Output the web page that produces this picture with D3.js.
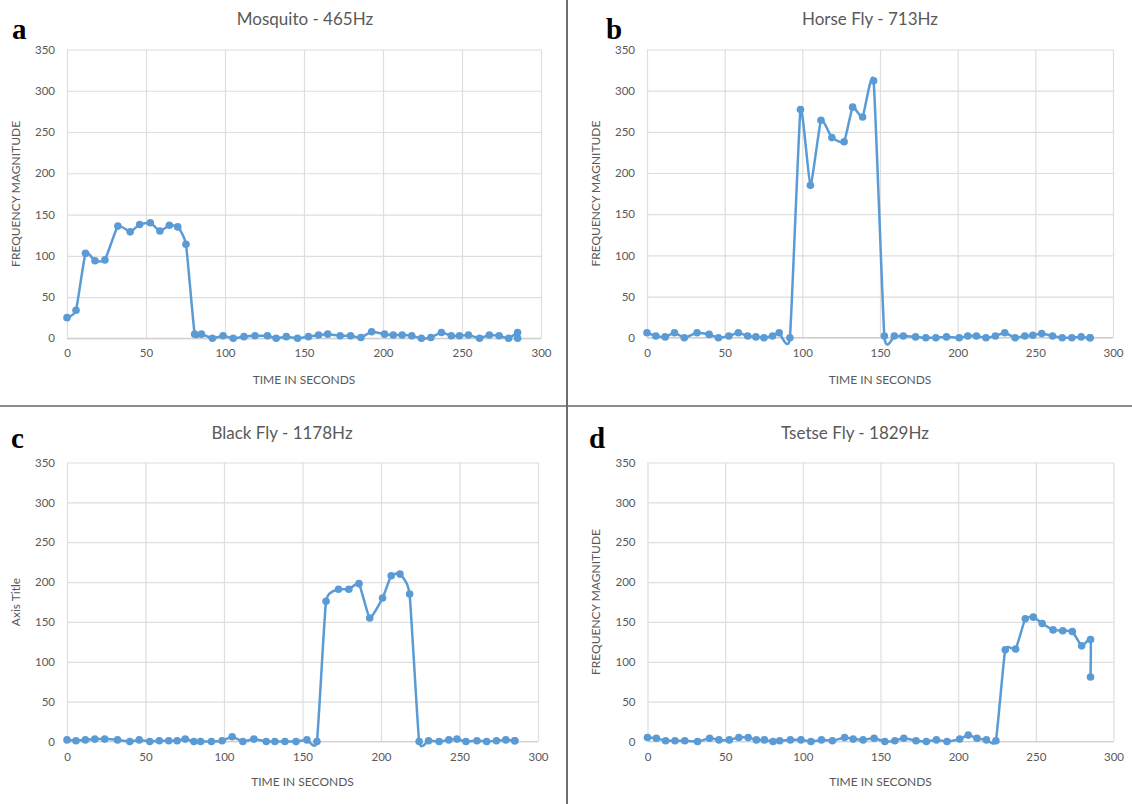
<!DOCTYPE html>
<html>
<head>
<meta charset="utf-8">
<script src="https://cdn.jsdelivr.net/npm/d3@7"></script>
<style>
  body { margin: 0; background: #fff; }
  svg { display: block; }
  .tick text { font-family: Lato, sans-serif; font-size: 11.5px; fill: #595959; }
</style>
</head>
<body>
<svg width="1132" height="804"></svg>
<script>
// sample times (seconds), shared by all four recordings
const timeSec = [0, 5.7, 11.7, 17.7, 24, 32.2, 40, 46, 52.7, 58.8, 64.8, 70.1, 75.3, 80.8, 85.1, 92,
  98.8, 105.2, 112, 119, 126.9, 132.4, 138.8, 145.9, 152.8, 159.2, 165, 172.9, 179.5, 186, 192.8,
  201, 206.5, 212.1, 218.2, 224.3, 230.3, 237, 243.2, 248.4, 254.1, 261.1, 267.3, 273.5, 279.5, 285.2, 285.2];

const mosquito = [25, 34, 103, 94, 95, 136, 129, 138, 140, 130, 137, 135, 114, 5, 5, 0, 3, 0, 2, 3, 3, 0, 2, 0,
  2, 4, 5, 3, 3, 1, 8, 5, 4, 4, 3, 0, 1, 7, 3, 3, 4, 0, 4, 3, 0, 7, 0];
const horseFly = [6, 2, 1, 6, 0, 6, 4, 0, 2, 6, 2, 1, 0, 2, 6, 0, 277, 185, 264, 243, 238, 280, 268, 312,
  2, 2, 2, 1, 0, 0, 1, 0, 2, 2, 0, 2, 6, 0, 2, 3, 5, 2, 0, 0, 1, 0, 0];
const blackFly = [2, 1, 2, 3, 3, 2, 0, 2, 0, 1, 1, 1, 3, 0, 0, 0, 1, 6, 0, 3, 0, 0, 0, 0, 2, 0,
  176, 191, 191, 198, 155, 180, 208, 210, 185, 0, 1, 0, 2, 3, 0, 1, 0, 1, 2, 1, 1];
const tsetseFly = [5, 4, 1, 1, 1, 0, 4, 2, 2, 5, 5, 2, 2, 0, 1, 2, 2, 0, 2, 1, 5, 3, 2, 4, 0, 1, 4, 1, 0, 2, 0,
  3, 8, 4, 2, 1, 115, 116, 154, 156, 148, 140, 139, 138, 120, 128, 81];

const titles = ["Mosquito - 465Hz", "Horse Fly - 713Hz", "Black Fly - 1178Hz", "Tsetse Fly - 1829Hz"];
const letters = ["a", "b", "c", "d"];
const yTitles = ["FREQUENCY MAGNITUDE", "FREQUENCY MAGNITUDE", "Axis Title", "FREQUENCY MAGNITUDE"];
const xTitle = "TIME IN SECONDS";
const xTicks = [0, 50, 100, 150, 200, 250, 300];
const yTicks = [0, 50, 100, 150, 200, 250, 300, 350];

const series = [mosquito, horseFly, blackFly, tsetseFly];

// layout of each panel (plot box, title and label spots)
const panels = [
  {left: 67, right: 541, top: 49.5, bottom: 338.3, titleX: 305, titleY: 25, letterX: 12, letterY: 39, yTitleX: 20, xTitleY: 384},
  {left: 647, right: 1113, top: 49.5, bottom: 337.7, titleX: 870, titleY: 25, letterX: 606, letterY: 39, yTitleX: 600, xTitleY: 384},
  {left: 67, right: 538, top: 462.5, bottom: 741.5, titleX: 282, titleY: 439, letterX: 11, letterY: 448, yTitleX: 20, xTitleY: 786},
  {left: 647.5, right: 1113.5, top: 462.5, bottom: 741.5, titleX: 855, titleY: 439, letterX: 589, letterY: 448, yTitleX: 600, xTitleY: 786}
];

const blue = "#5b9bd5";
const svg = d3.select("svg");

// panel dividers
svg.append("line").attr("x1", 0).attr("x2", 1132).attr("y1", 406).attr("y2", 406)
  .attr("stroke", "#8c8c8c").attr("stroke-width", 2);
svg.append("line").attr("x1", 567).attr("x2", 567).attr("y1", 0).attr("y2", 804)
  .attr("stroke", "#6e6e6e").attr("stroke-width", 2);

panels.forEach((p, k) => {
  const data = timeSec.map((t, i) => ({t: t, v: series[k][i]}));

  const x = d3.scaleLinear().domain([0, 300]).range([p.left, p.right]);
  const y = d3.scaleLinear().domain([0, 350]).range([p.bottom, p.top]);

  const g = svg.append("g");

  // horizontal grid + y labels
  const yAxis = d3.axisLeft(y).tickValues(yTicks).tickSize(-(p.right - p.left)).tickPadding(12);
  const gy = g.append("g").attr("transform", "translate(" + p.left + ",0)").call(yAxis);
  gy.select(".domain").remove();
  gy.selectAll(".tick line").attr("stroke", "#dedede").attr("stroke-width", 1.2);

  // vertical grid + x labels
  const xAxis = d3.axisBottom(x).tickValues(xTicks).tickSize(-(p.bottom - p.top)).tickPadding(11);
  const gx = g.append("g").attr("transform", "translate(0," + p.bottom + ")").call(xAxis);
  gx.select(".domain").remove();
  gx.selectAll(".tick line").attr("stroke", "#dedede").attr("stroke-width", 1.2);

  // bottom axis line a bit darker
  g.append("line").attr("x1", p.left).attr("x2", p.right).attr("y1", p.bottom).attr("y2", p.bottom)
    .attr("stroke", "#cfcfcf").attr("stroke-width", 1.2);

  const line = d3.line()
    .x(d => x(d.t))
    .y(d => y(d.v))
    .curve(d3.curveCardinal.tension(0.55));

  g.append("path").datum(data)
    .attr("d", line)
    .attr("fill", "none")
    .attr("stroke", blue)
    .attr("stroke-width", 2.5)
    .attr("stroke-linejoin", "round");

  g.selectAll("circle").data(data).enter().append("circle")
    .attr("cx", d => x(d.t))
    .attr("cy", d => y(d.v))
    .attr("r", 3.8)
    .attr("fill", blue);

  // chart title
  g.append("text").attr("x", p.titleX).attr("y", p.titleY)
    .attr("text-anchor", "middle")
    .style("font-family", "Lato, sans-serif").style("font-size", "17px").style("fill", "#595959")
    .text(titles[k]);

  // panel letter
  g.append("text").attr("x", p.letterX).attr("y", p.letterY)
    .style("font-family", "'Liberation Serif', serif").style("font-weight", "bold")
    .style("font-size", "29px").style("fill", "#000")
    .text(letters[k]);

  // axis titles
  g.append("text").attr("x", (p.left + p.right) / 2).attr("y", p.xTitleY)
    .attr("text-anchor", "middle")
    .style("font-family", "Lato, sans-serif").style("font-size", "12px").style("fill", "#595959")
    .text(xTitle);

  g.append("text")
    .attr("transform", "translate(" + p.yTitleX + "," + (p.top + p.bottom) / 2 + ") rotate(-90)")
    .attr("text-anchor", "middle")
    .style("font-family", "Lato, sans-serif").style("font-size", "12px").style("fill", "#595959")
    .text(yTitles[k]);
});
</script>
</body>
</html>
